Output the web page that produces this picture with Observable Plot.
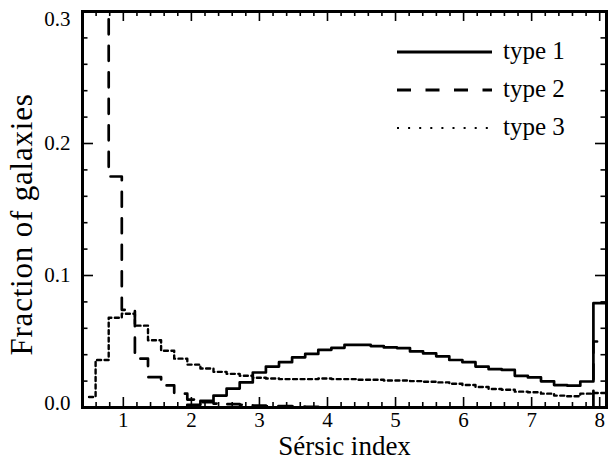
<!DOCTYPE html>
<html>
<head>
<meta charset="utf-8">
<script src="https://cdn.jsdelivr.net/npm/d3@7"></script>
<script src="https://cdn.jsdelivr.net/npm/@observablehq/plot@0.6"></script>
<style>
  html, body { margin: 0; padding: 0; background: white; }
  #wrap { position: relative; width: 610px; height: 461px; font-family: 'Liberation Serif', serif; }
  #legend { position: absolute; left: 0; top: 0; pointer-events: none; }
</style>
</head>
<body>
<div id="wrap"></div>
<script>
// ---- data (40 equal bins spanning the x range) ----
const binRange = [0.4, 8.1];
const nBins = 40;
const seriesNames = ["type 1", "type 2", "type 3"];
const type1 = [0, 0, 0, 0, 0, 0, 0, 0, 0.002, 0.005,
               0.009, 0.0143, 0.019, 0.0265, 0.031, 0.0343, 0.038, 0.0406, 0.0437, 0.0452,
               0.0475, 0.0475, 0.0465, 0.0455, 0.045, 0.0425, 0.041, 0.0388, 0.036, 0.0343,
               0.031, 0.029, 0.0285, 0.024, 0.0228, 0.0198, 0.017, 0.0165, 0.0197, 0.079];
const type2 = [0.5, 0.5, 0.175, 0.074, 0.037, 0.023, 0.0167, 0.0105, 0.006, 0.004,
               0.003, 0.0025, 0.002, 0.0015, 0.001, 0.001, 0.0007, 0.0004, 0, 0,
               0, 0, 0, 0, 0, 0, 0, 0, 0, 0,
               0, 0, 0, 0, 0, 0, 0, 0, 0, 0.05];
const type3 = [0.008, 0.036, 0.068, 0.071, 0.062, 0.051, 0.043, 0.037, 0.0325, 0.0295,
               0.027, 0.0255, 0.024, 0.0225, 0.022, 0.0215, 0.0215, 0.0215, 0.022, 0.0215,
               0.0215, 0.021, 0.021, 0.0205, 0.0205, 0.02, 0.0195, 0.019, 0.018, 0.017,
               0.0155, 0.014, 0.0135, 0.012, 0.0115, 0.0105, 0.009, 0.0085, 0.0105, 0.011];
const xTicks = [1, 2, 3, 4, 5, 6, 7, 8];
const yTicks = [0, 0.1, 0.2, 0.3];
const yTickLabels = ["0.0", "0.1", "0.2", "0.3"];
const xLabel = "Sérsic index";
const yLabel = "Fraction of galaxies";

// ---- layout ----
const W = 610, H = 461, mL = 82, mR = 4, mT = 11, mB = 54;
const innerW = W - mL - mR, innerH = H - mT - mB;
const font = "'Liberation Serif', serif";

const edges = d3.range(nBins + 1).map(i => binRange[0] + i * (binRange[1] - binRange[0]) / nBins);
// histogram step vertices (first bin starts at its centre, last bin runs to the frame)
function steps(vals) {
  const pts = [{x: (edges[0] + edges[1]) / 2, y: vals[0]}];
  for (let k = 1; k < nBins; k++) pts.push({x: edges[k], y: vals[k]});
  pts.push({x: edges[nBins], y: vals[nBins - 1]});
  return pts;
}
const xMinor = d3.range(4, 81, 2).map(d => d / 10).filter(d => !xTicks.includes(d));
const yMinor = d3.range(0, 31, 2).map(d => d / 100).filter(d => !yTicks.some(t => Math.abs(t - d) < 1e-9));

const tickW = 1.6;
const chart = Plot.plot({
  width: W, height: H,
  marginLeft: mL, marginRight: mR, marginTop: mT, marginBottom: mB,
  x: {domain: binRange},
  y: {domain: [0, 0.3]},
  style: {fontFamily: font, background: "white"},
  marks: [
    Plot.line(steps(type3), {x: "x", y: "y", curve: "step-after", stroke: "black", strokeWidth: 2.4, strokeDasharray: "4,3.5", clip: true}),
    Plot.line(steps(type2), {x: "x", y: "y", curve: "step-after", stroke: "black", strokeWidth: 2.7, strokeDasharray: "15,11.5", clip: true}),
    Plot.line(steps(type1), {x: "x", y: "y", curve: "step-after", stroke: "black", strokeWidth: 2.7, clip: true}),
    // inward ticks on all four sides
    Plot.ruleX(xTicks, {insetTop: innerH - 10, strokeWidth: tickW}),
    Plot.ruleX(xTicks, {insetBottom: innerH - 10, strokeWidth: tickW}),
    Plot.ruleX(xMinor, {insetTop: innerH - 5, strokeWidth: tickW}),
    Plot.ruleX(xMinor, {insetBottom: innerH - 5, strokeWidth: tickW}),
    Plot.ruleY(yTicks, {insetRight: innerW - 11, strokeWidth: tickW}),
    Plot.ruleY(yTicks, {insetLeft: innerW - 11, strokeWidth: tickW}),
    Plot.ruleY(yMinor, {insetRight: innerW - 5.5, strokeWidth: tickW}),
    Plot.ruleY(yMinor, {insetLeft: innerW - 5.5, strokeWidth: tickW}),
    // tick labels
    Plot.axisX(xTicks, {tickSize: 0, tickPadding: 5, fontSize: 21, label: null, tickFormat: d => String(d)}),
    Plot.axisY([yTicks[1], yTicks[2]], {tickSize: 0, tickPadding: 12, fontSize: 21, label: null, tickFormat: d => yTickLabels[yTicks.indexOf(d)]}),
    Plot.axisY([yTicks[3]], {tickSize: 0, tickPadding: 12, fontSize: 21, label: null, dy: 8, tickFormat: d => yTickLabels[3]}),
    Plot.axisY([yTicks[0]], {tickSize: 0, tickPadding: 12, fontSize: 21, label: null, dy: -4, tickFormat: d => yTickLabels[0]}),
    // axis titles
    Plot.text([xLabel], {frameAnchor: "bottom", textAnchor: "middle", lineAnchor: "middle", dy: 39, fontSize: 27, text: d => d}),
    Plot.text([yLabel], {frameAnchor: "left", textAnchor: "middle", lineAnchor: "middle", dx: -60, dy: 15, rotate: -90, fontSize: 31, text: d => d}),
    Plot.frame({stroke: "black", strokeWidth: 3})
  ]
});

// the reference sets the y title slightly more loosely
chart.querySelectorAll("text").forEach(t => {
  if (t.textContent === yLabel) t.style.letterSpacing = "0.8px";
});

const wrap = document.getElementById("wrap");
wrap.appendChild(chart);

// ---- legend (inside the upper right of the frame) ----
const ns = "http://www.w3.org/2000/svg";
const leg = document.createElementNS(ns, "svg");
leg.setAttribute("id", "legend");
leg.setAttribute("width", W);
leg.setAttribute("height", H);
const legStyles = [
  {dash: null, width: 3},
  {dash: "14,14.5", width: 3},
  {dash: "2,9.1", width: 2}
];
seriesNames.forEach((name, i) => {
  const y = 52 + i * 38;
  const line = document.createElementNS(ns, "line");
  line.setAttribute("x1", 397); line.setAttribute("x2", 492);
  line.setAttribute("y1", y); line.setAttribute("y2", y);
  line.setAttribute("stroke", "black");
  line.setAttribute("stroke-width", legStyles[i].width);
  if (legStyles[i].dash) line.setAttribute("stroke-dasharray", legStyles[i].dash);
  leg.appendChild(line);
  const t = document.createElementNS(ns, "text");
  t.setAttribute("x", 503); t.setAttribute("y", y + 7);
  t.setAttribute("font-size", 25);
  t.setAttribute("font-family", "Liberation Serif");
  t.textContent = name;
  leg.appendChild(t);
});
wrap.appendChild(leg);
</script>
</body>
</html>
